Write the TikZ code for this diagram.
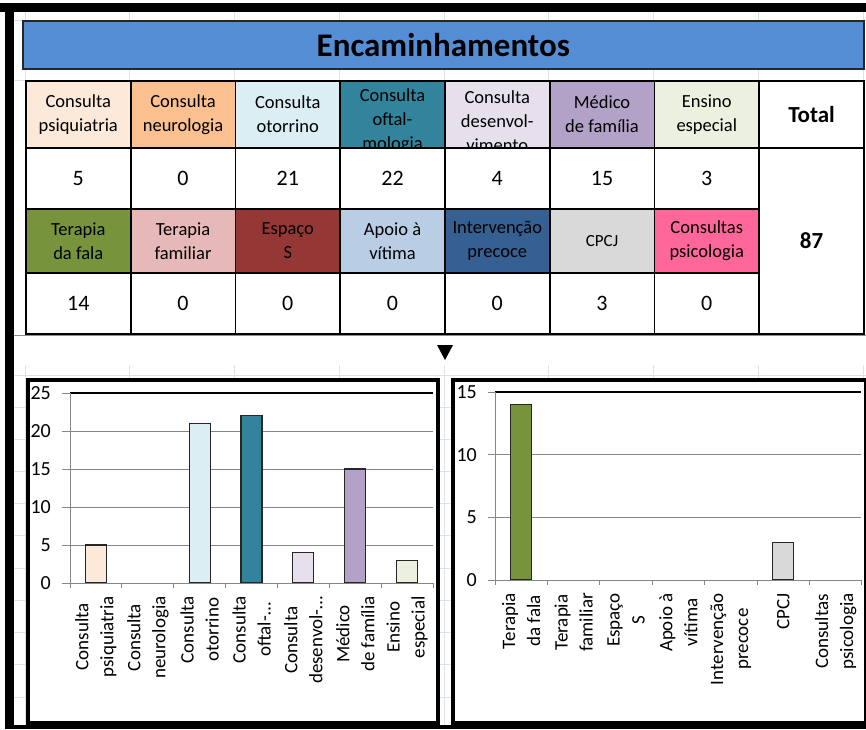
\documentclass[tikz,border=0pt]{standalone}
\usepackage{fontspec}
\setmainfont{Carlito}
\definecolor{cPsi}{HTML}{FDE9D9}
\definecolor{cNeu}{HTML}{FAC090}
\definecolor{cOto}{HTML}{DBEEF4}
\definecolor{cOft}{HTML}{31849B}
\definecolor{cDes}{HTML}{E6E0EC}
\definecolor{cMed}{HTML}{B3A2C7}
\definecolor{cEns}{HTML}{EBF1DE}
\definecolor{cTfa}{HTML}{77933C}
\definecolor{cTfm}{HTML}{E6B9B8}
\definecolor{cEsp}{HTML}{953735}
\definecolor{cApo}{HTML}{B9CDE5}
\definecolor{cInt}{HTML}{376092}
\definecolor{cCpc}{HTML}{D9D9D9}
\definecolor{cPsc}{HTML}{FF6699}
\definecolor{cTitle}{HTML}{558ED5}
\definecolor{cGrid}{HTML}{DCE3EE}
\definecolor{cAxis}{HTML}{868686}
\tikzset{
  cellbox/.style={draw=black, line width=1.8pt, minimum width=104.75pt, inner sep=0pt,
    anchor=north west, align=center, font={\fontsize{18.5}{24}\selectfont}},
  hdrtext/.style={inner sep=0pt, align=center, font={\fontsize{18.5}{24}\selectfont}},
  valbox/.style={cellbox, fill=white, font={\fontsize{22}{26}\selectfont}},
  chartframe/.style={draw=black, line width=4pt, fill=white, inner sep=0pt, anchor=north west},
  gridl/.style={draw=cAxis, line width=0.9pt},
  axisl/.style={draw=cAxis, line width=0.9pt},
  barst/.style={draw=black!85, line width=1.2pt},
  ylab/.style={anchor=east, inner sep=0pt, font={\fontsize{20}{24}\selectfont}},
  xlab/.style={rotate=90, anchor=east, inner sep=0pt, align=center, font={\fontsize{19}{25}\selectfont}},
}
\begin{document}
\begin{tikzpicture}[x=1pt, y=-1pt]
\useasboundingbox (0,0) rectangle (866,729);
\fill[white] (0,0) rectangle (866,729);
% spreadsheet grid
\foreach \gx in {25,129.75,234.5,339.25,444,548.75,653.5,758.25,863}{
  \draw[cGrid, line width=0.8pt] (\gx,12) -- (\gx,335);
  \draw[cGrid, line width=0.8pt] (\gx,365) -- (\gx,725);}
\foreach \gy in {20,80,375,407,439,471,503,535,568,600,632,664,697}
  \draw[cGrid, line width=0.8pt] (14,\gy) -- (866,\gy);
\draw[black!45, line width=1pt] (14,335.5) -- (866,335.5);
% outer black frame
\fill[black] (0,3) rectangle (866,12);
\fill[black] (5,3) rectangle (14,729);
\fill[black] (5,725) rectangle (866,729);
% title
\node (title) [draw=black!85, line width=1.6pt, fill=cTitle, minimum width=841pt, minimum height=48pt,
  inner sep=0pt, anchor=north west, font={\bfseries\fontsize{33}{38}\selectfont}] at (22,20) {Encaminhamentos};
% table row 1 headers
\node (h1) [cellbox, fill=cPsi, minimum height=67pt] at (25,80) {Consulta\\psiquiatria};
\node (h2) [cellbox, fill=cNeu, minimum height=67pt] at (129.75,80) {Consulta\\neurologia};
\node (h3) [cellbox, fill=cOto, minimum height=67pt] at (234.5,80) {Consulta\\otorrino};
\node (h4) [cellbox, fill=cOft, minimum height=67pt] at (339.25,80) {};
\node (h5) [cellbox, fill=cDes, minimum height=67pt] at (444,80) {};
\node (h6) [cellbox, fill=cMed, minimum height=67pt] at (548.75,80) {Médico\\de família};
\node (h7) [cellbox, fill=cEns, minimum height=67pt] at (653.5,80) {Ensino\\especial};
\begin{scope}
  \clip ([shift={(1,1)}]h4.north west) rectangle ([shift={(-1,-1)}]h4.south east);
  \node (h4t) [hdrtext] at ([shift={(0,6.5)}]h4.center) {Consulta\\oftal-\\mologia};
\end{scope}
\begin{scope}
  \clip ([shift={(1,1)}]h5.north west) rectangle ([shift={(-1,-1)}]h5.south east);
  \node (h5t) [hdrtext] at ([shift={(0,6.5)}]h5.center) {Consulta\\desenvol-\\vimento};
\end{scope}
\node (tot) [cellbox, fill=white, minimum height=67pt, font={\bfseries\fontsize{23}{28}\selectfont}] at (758.25,80) {Total};
% row 2 values
\node (v1) [valbox, minimum height=61pt] at (25,147) {5};
\node (v2) [valbox, minimum height=61pt] at (129.75,147) {0};
\node (v3) [valbox, minimum height=61pt] at (234.5,147) {21};
\node (v4) [valbox, minimum height=61pt] at (339.25,147) {22};
\node (v5) [valbox, minimum height=61pt] at (444,147) {4};
\node (v6) [valbox, minimum height=61pt] at (548.75,147) {15};
\node (v7) [valbox, minimum height=61pt] at (653.5,147) {3};
\node (totv) [cellbox, fill=white, minimum height=186pt, font={\bfseries\fontsize{23}{28}\selectfont}] at (758.25,147) {87};
% row 3 headers
\node (g1) [cellbox, fill=cTfa, minimum height=64pt] at (25,208) {Terapia\\da fala};
\node (g2) [cellbox, fill=cTfm, minimum height=64pt] at (129.75,208) {Terapia\\familiar};
\node (g3) [cellbox, fill=cEsp, minimum height=64pt] at (234.5,208) {Espaço\\S};
\node (g4) [cellbox, fill=cApo, minimum height=64pt] at (339.25,208) {Apoio à\\vítima};
\node (g5) [cellbox, fill=cInt, minimum height=64pt] at (444,208) {Intervenção\\precoce};
\node (g6) [cellbox, fill=cCpc, minimum height=64pt, font={\fontsize{17}{22}\selectfont}] at (548.75,208) {CPCJ};
\node (g7) [cellbox, fill=cPsc, minimum height=64pt] at (653.5,208) {Consultas\\psicologia};
% row 4 values
\node (w1) [valbox, minimum height=61pt] at (25,272) {14};
\node (w2) [valbox, minimum height=61pt] at (129.75,272) {0};
\node (w3) [valbox, minimum height=61pt] at (234.5,272) {0};
\node (w4) [valbox, minimum height=61pt] at (339.25,272) {0};
\node (w5) [valbox, minimum height=61pt] at (444,272) {0};
\node (w6) [valbox, minimum height=61pt] at (548.75,272) {3};
\node (w7) [valbox, minimum height=61pt] at (653.5,272) {0};
% arrow triangle
\fill[black] (437,345) -- (453,345) -- (445,360) -- cycle;
% ---------------- left chart
\node (lc) [chartframe, minimum width=410pt, minimum height=343pt] at (25.5,377.5) {};
\foreach \v in {5,10,15,20}
  \draw[gridl] (62,{583-\v*7.6}) -- (433,{583-\v*7.6});
\draw[gridl] (62,393) -- (70,393);
\draw[black, line width=1.1pt] (70,393) -- (433,393);
\draw[axisl] (70,393) -- (70,583);
\foreach \k/\v/\c in {1/5/cPsi,3/21/cOto,4/22/cOft,5/4/cDes,6/15/cMed,7/3/cEns}
  \draw[barst, fill=\c] ({70+(\k-0.5)*51.86-10.5},583) rectangle ({70+(\k-0.5)*51.86+10.5},{583-\v*7.6});
\draw[axisl] (62,583) -- (433,583);
\foreach \k in {0,...,7}
  \draw[axisl] ({70+\k*51.86},583) -- ++(0,5);
\foreach \v in {0,5,10,15,20,25}
  \node (ly\v) [ylab] at (51,{583-\v*7.6}) {\v};
\foreach \k/\t in {1/{Consulta\\psiquiatria},2/{Consulta\\neurologia},3/{Consulta\\otorrino},
  4/{Consulta\\oftal-…},5/{Consulta\\desenvol-…},6/{Médico\\de família},7/{Ensino\\especial}}
  \node (lx\k) [xlab] at ({70+(\k-0.5)*51.86},596) {\t};
% ---------------- right chart
\node (rc) [chartframe, minimum width=413pt, minimum height=343pt] at (450.5,377.5) {};
\foreach \v in {5,10}
  \draw[gridl] (488,{580-\v*12.53}) -- (861,{580-\v*12.53});
\draw[gridl] (488,392) -- (495,392);
\draw[black, line width=1.1pt] (495,392) -- (861,392);
\draw[axisl] (495,392) -- (495,580);
\foreach \k/\v/\c in {1/14/cTfa,6/3/cCpc}
  \draw[barst, fill=\c] ({495+(\k-0.5)*52.4-10.5},580) rectangle ({495+(\k-0.5)*52.4+10.5},{580-\v*12.53});
\draw[axisl] (488,580) -- (861,580);
\foreach \k in {0,...,7}
  \draw[axisl] ({495+\k*52.4},580) -- ++(0,5);
\foreach \v in {0,5,10,15}
  \node (ry\v) [ylab] at (477,{580-\v*12.53}) {\v};
\foreach \k/\t in {1/{Terapia\\da fala},2/{Terapia\\familiar},3/{Espaço\\S},4/{Apoio à\\vítima},
  5/{Intervenção\\precoce},6/{CPCJ},7/{Consultas\\psicologia}}
  \node (rx\k) [xlab] at ({495+(\k-0.5)*52.4},593) {\t};
\end{tikzpicture}
\end{document}
